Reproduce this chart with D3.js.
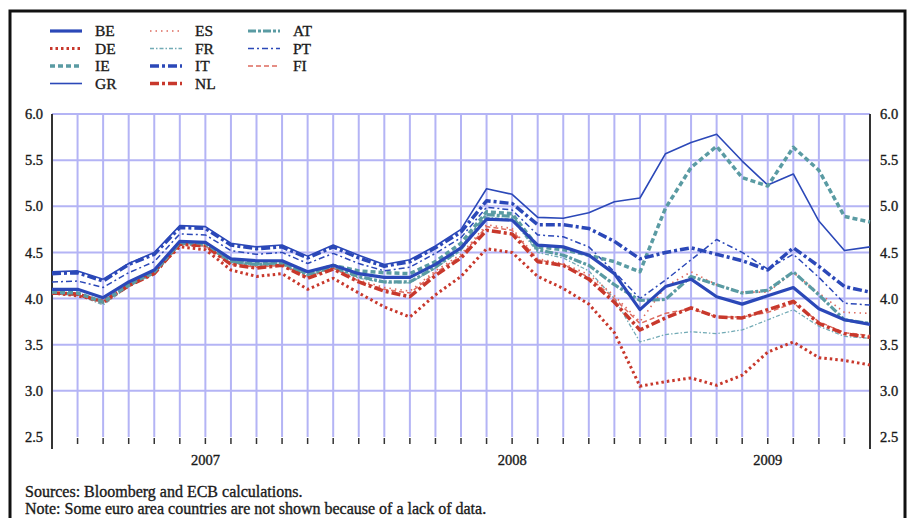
<!DOCTYPE html>
<html>
<head>
<meta charset="utf-8">
<script src="https://cdn.jsdelivr.net/npm/d3@7"></script>
<style>
  body { margin: 0; background: #fff; }
  svg { display: block; }
  text { stroke: #1a1a1a; stroke-width: 0.35px; }
</style>
</head>
<body>
<div id="chart"></div>
<script>
// monthly observations, Jan 2007 - Sep 2009
const months = [
  "2007-01","2007-02","2007-03","2007-04","2007-05","2007-06","2007-07","2007-08","2007-09","2007-10","2007-11","2007-12",
  "2008-01","2008-02","2008-03","2008-04","2008-05","2008-06","2008-07","2008-08","2008-09","2008-10","2008-11","2008-12",
  "2009-01","2009-02","2009-03","2009-04","2009-05","2009-06","2009-07","2009-08","2009-09"
];
const years = ["2007", "2008", "2009"];
const yTicks = [2.5, 3.0, 3.5, 4.0, 4.5, 5.0, 5.5, 6.0];

const BE = [4.10,4.10,4.01,4.18,4.31,4.62,4.61,4.43,4.41,4.41,4.29,4.36,4.27,4.23,4.23,4.37,4.55,4.86,4.85,4.58,4.56,4.47,4.27,3.88,4.13,4.21,4.02,3.94,4.03,4.12,3.89,3.77,3.72];
const DE = [4.06,4.03,3.97,4.15,4.30,4.56,4.53,4.31,4.24,4.27,4.10,4.22,4.06,3.91,3.80,4.04,4.24,4.54,4.50,4.24,4.11,3.94,3.63,3.05,3.10,3.14,3.06,3.17,3.42,3.53,3.36,3.33,3.28];
const IE = [4.07,4.06,3.96,4.15,4.29,4.61,4.60,4.41,4.38,4.39,4.27,4.36,4.30,4.28,4.27,4.40,4.60,4.94,4.92,4.56,4.53,4.47,4.40,4.29,4.98,5.42,5.65,5.31,5.22,5.64,5.39,4.89,4.83];
const GR = [4.29,4.30,4.21,4.38,4.50,4.79,4.78,4.60,4.56,4.58,4.46,4.58,4.47,4.37,4.42,4.57,4.75,5.19,5.13,4.88,4.87,4.93,5.05,5.09,5.57,5.69,5.78,5.49,5.23,5.35,4.84,4.52,4.56];
const ES = [4.06,4.05,3.97,4.15,4.29,4.60,4.58,4.38,4.35,4.37,4.24,4.34,4.20,4.12,4.08,4.30,4.48,4.80,4.76,4.43,4.38,4.26,4.03,3.75,4.13,4.29,4.15,4.07,4.07,4.28,4.06,3.85,3.84];
const FR = [4.05,4.04,3.93,4.13,4.27,4.58,4.57,4.39,4.36,4.37,4.25,4.33,4.22,4.17,4.17,4.33,4.52,4.88,4.86,4.50,4.44,4.30,4.00,3.53,3.61,3.64,3.62,3.66,3.77,3.88,3.70,3.59,3.57];
const IT = [4.27,4.28,4.19,4.37,4.48,4.77,4.76,4.58,4.54,4.56,4.44,4.56,4.44,4.35,4.40,4.55,4.72,5.06,5.03,4.80,4.80,4.76,4.62,4.43,4.50,4.55,4.48,4.41,4.31,4.55,4.35,4.13,4.07];
const NL = [4.06,4.05,3.96,4.14,4.27,4.59,4.57,4.37,4.33,4.36,4.22,4.32,4.18,4.08,4.02,4.25,4.44,4.74,4.70,4.40,4.36,4.21,3.96,3.66,3.79,3.90,3.80,3.79,3.88,3.97,3.73,3.62,3.58];
const AT = [4.06,4.05,3.97,4.14,4.28,4.60,4.59,4.40,4.37,4.38,4.26,4.34,4.24,4.18,4.18,4.34,4.54,4.91,4.89,4.53,4.47,4.36,4.15,3.98,3.99,4.24,4.15,4.06,4.09,4.29,4.04,3.77,3.73];
const PT = [4.18,4.19,4.12,4.28,4.40,4.70,4.69,4.52,4.48,4.50,4.38,4.49,4.38,4.30,4.34,4.49,4.66,4.99,4.96,4.69,4.67,4.56,4.29,4.00,4.20,4.42,4.64,4.50,4.32,4.48,4.23,3.95,3.93];
const FI = [4.05,4.04,3.96,4.14,4.28,4.59,4.57,4.37,4.34,4.36,4.23,4.33,4.19,4.10,4.06,4.28,4.46,4.78,4.74,4.42,4.37,4.23,4.00,3.73,3.84,3.89,3.80,3.80,3.85,3.95,3.75,3.63,3.60];

const blue = "#2b48b8", red = "#c8382c", redLight = "#dd6a5e", teal = "#5a9ba3", tealLight = "#72aab5";

const styles = {
  BE: {color: blue, width: 3.2, dash: null},
  DE: {color: red, width: 3, dash: "2.5,3"},
  IE: {color: teal, width: 3.5, dash: "5,3"},
  GR: {color: blue, width: 1.6, dash: null},
  ES: {color: redLight, width: 1.6, dash: "1.5,4"},
  FR: {color: tealLight, width: 1.3, dash: "4,2,1.5,2"},
  IT: {color: blue, width: 3.5, dash: "9,3,3,3"},
  NL: {color: red, width: 3.5, dash: "9,3,3,3"},
  AT: {color: teal, width: 3.2, dash: "8,2,3,2"},
  PT: {color: blue, width: 1.5, dash: "6,3,2,3"},
  FI: {color: redLight, width: 1.5, dash: "5,3"}
};

const series = [
  {name: "BE", values: BE}, {name: "DE", values: DE}, {name: "IE", values: IE}, {name: "GR", values: GR},
  {name: "ES", values: ES}, {name: "FR", values: FR}, {name: "IT", values: IT}, {name: "NL", values: NL},
  {name: "AT", values: AT}, {name: "PT", values: PT}, {name: "FI", values: FI}
];
// bottom to top
const drawOrder = ["FR", "FI", "ES", "PT", "GR", "AT", "NL", "DE", "IE", "IT", "BE"];

const W = 911, H = 518;
const plot = {left: 52, right: 870, top: 114, bottom: 437};

const svg = d3.select("#chart").append("svg")
    .attr("width", W)
    .attr("height", H);

// frame
svg.append("rect")
    .attr("x", 10).attr("y", 11)
    .attr("width", 895).attr("height", 530)
    .attr("fill", "none")
    .attr("stroke", "#111")
    .attr("stroke-width", 3);

const x = d3.scalePoint().domain(months).range([plot.left, plot.right]);
const y = d3.scaleLinear().domain([2.5, 6]).range([plot.bottom, plot.top]);

// grid
const grid = svg.append("g").attr("stroke", "#b4b4f5").attr("stroke-width", 2);
grid.selectAll(".vg")
    .data(months.slice(1, -1))
    .enter().append("line")
    .attr("x1", d => x(d)).attr("x2", d => x(d))
    .attr("y1", plot.top).attr("y2", plot.bottom);
grid.selectAll(".hg")
    .data(yTicks.filter(d => d > 2.5))
    .enter().append("line")
    .attr("x1", plot.left).attr("x2", plot.right)
    .attr("y1", d => y(d)).attr("y2", d => y(d));

// month ticks under the plot
svg.append("g").selectAll("line")
    .data(months.slice(1, -1))
    .enter().append("line")
    .attr("x1", d => x(d)).attr("x2", d => x(d))
    .attr("y1", plot.bottom + 1).attr("y2", plot.bottom + 7)
    .attr("stroke", "#333")
    .attr("stroke-width", 1.5);

// y axes
const yAxisL = d3.axisLeft(y).tickValues(yTicks).tickSize(0).tickPadding(9).tickFormat(d3.format(".1f"));
const yAxisR = d3.axisRight(y).tickValues(yTicks).tickSize(0).tickPadding(10).tickFormat(d3.format(".1f"));

svg.append("g")
    .attr("class", "yl")
    .attr("transform", "translate(" + plot.left + ",0)")
    .call(yAxisL);
svg.append("g")
    .attr("class", "yr")
    .attr("transform", "translate(" + plot.right + ",0)")
    .call(yAxisR);

svg.selectAll(".yl .domain, .yr .domain").remove();
svg.selectAll(".yl .tick text, .yr .tick text")
    .attr("font-family", "Liberation Serif, serif")
    .attr("font-size", "14.5px")
    .attr("fill", "#1a1a1a");

[plot.left, plot.right].forEach(function(px) {
  svg.append("line")
      .attr("x1", px).attr("x2", px)
      .attr("y1", plot.top).attr("y2", plot.bottom + 12)
      .attr("stroke", "#333")
      .attr("stroke-width", 2);
});

// year labels centred on each year's span
svg.append("g").selectAll("text")
    .data(years)
    .enter().append("text")
    .attr("x", function(d) {
      const a = x(d + "-01");
      const next = (+d + 1) + "-01";
      const b = months.indexOf(next) >= 0 ? x(next) : x(months[months.length - 1]);
      return (a + b) / 2;
    })
    .attr("y", 465)
    .attr("text-anchor", "middle")
    .attr("font-family", "Liberation Serif, serif")
    .attr("font-size", "14.5px")
    .attr("fill", "#1a1a1a")
    .text(d => d);

// lines
const line = d3.line()
    .x((d, i) => x(months[i]))
    .y(d => y(d));

const byName = {};
series.forEach(s => byName[s.name] = s);

svg.append("g").selectAll("path")
    .data(drawOrder.map(n => byName[n]))
    .enter().append("path")
    .attr("d", d => line(d.values))
    .attr("fill", "none")
    .attr("stroke", d => styles[d.name].color)
    .attr("stroke-width", d => styles[d.name].width)
    .attr("stroke-dasharray", d => styles[d.name].dash)
    .attr("stroke-linejoin", "round");

// legend, three columns
const legCols = [50, 150, 248];
const legRows = [31, 48.5, 66, 83.5];
const legend = svg.append("g").selectAll("g")
    .data(series)
    .enter().append("g")
    .attr("transform", (d, i) => "translate(" + legCols[Math.floor(i / 4)] + "," + legRows[i % 4] + ")");

legend.append("line")
    .attr("x1", 0).attr("x2", 32)
    .attr("y1", 0).attr("y2", 0)
    .attr("stroke", d => styles[d.name].color)
    .attr("stroke-width", d => styles[d.name].width)
    .attr("stroke-dasharray", d => styles[d.name].dash);

legend.append("text")
    .attr("x", 45)
    .attr("y", 0)
    .attr("dy", "0.35em")
    .attr("font-family", "Liberation Serif, serif")
    .attr("font-size", "15.5px")
    .attr("fill", "#1a1a1a")
    .text(d => d.name);

// notes
const notes = svg.append("g")
    .attr("font-family", "Liberation Serif, serif")
    .attr("font-size", "16px")
    .attr("fill", "#1a1a1a");
notes.append("text").attr("x", 25).attr("y", 497).text("Sources: Bloomberg and ECB calculations.");
notes.append("text").attr("x", 25).attr("y", 514).text("Note: Some euro area countries are not shown because of a lack of data.");
</script>
</body>
</html>
